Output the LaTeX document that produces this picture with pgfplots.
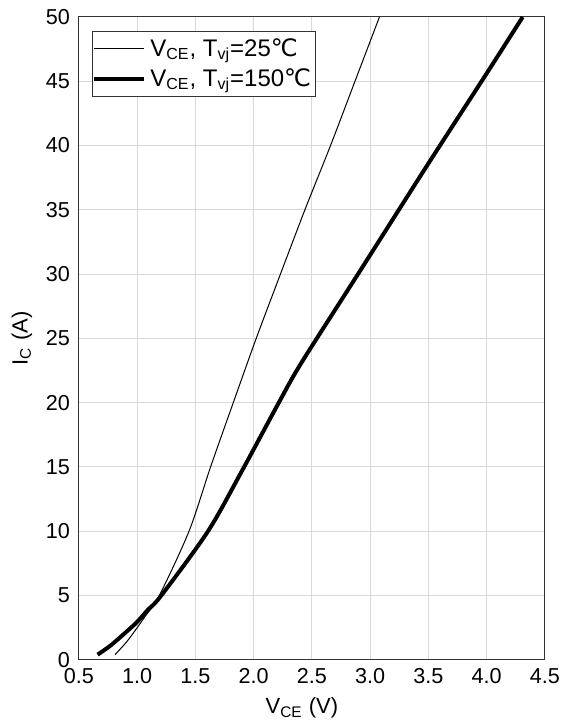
\documentclass[border=0pt]{standalone}
\usepackage{fontspec}
\setmainfont{Liberation Sans}
\newfontfamily\symfont{DejaVu Sans}
\usepackage{pgfplots}
\pgfplotsset{compat=1.18}
\newcommand{\degC}{{\symfont ℃}}
\begin{document}
\begin{tikzpicture}
\begin{axis}[
  scale only axis,
  width=233pt, height=321.5pt,
  xmin=0.5, xmax=4.5, ymin=0, ymax=50,
  xtick={0.5,1.0,...,4.5}, ytick={0,5,...,50},
  /pgf/number format/assume math mode=true,
  xticklabel style={/pgf/number format/fixed,/pgf/number format/fixed zerofill,/pgf/number format/precision=1, yshift=-1pt},
  yticklabel style={/pgf/number format/fixed, xshift=-1pt},
  tick label style={font=\fontsize{10.8}{12}\selectfont},
  label style={font=\fontsize{11}{13}\selectfont},
  major tick length=0pt,
  grid=major,
  grid style={draw=black!15, line width=0.5pt},
  axis line style={draw=black!80, line width=0.5pt},
  xlabel={V\textsubscript{CE} (V)},
  ylabel={I\textsubscript{C} (A)},
  xlabel style={xshift=-5pt},
  legend cell align=left,
  legend style={at={(0,1)}, anchor=north west, xshift=6.5pt, yshift=-7pt,
    draw=black!80, line width=0.5pt, font=\fontsize{12}{15}\selectfont,
    inner xsep=0pt, inner ysep=1.5pt, row sep=0.5pt},
  legend image code/.code={\draw[#1] (0pt,0pt) -- (25pt,0pt);},
]
\addplot[black, line width=0.5pt, smooth] coordinates {
(0.81,0.4) (0.91,1.4) (1.0,2.5) (1.07,3.4) (1.19,5.0) (1.445,10) (1.63,15)
(1.825,20) (2.022,25) (2.23,30) (2.44,35) (2.66,40) (2.87,45) (3.08,50)};
\addlegendentry{V\textsubscript{CE}, T\textsubscript{vj}=25\degC\hspace{3pt}}
\addplot[black, line width=2pt, smooth] coordinates {
(0.66,0.4) (0.77,1.1) (0.91,2.2) (1.0,2.95) (1.093,3.9) (1.207,5) (1.608,10)
(1.90,14.7) (2.21,19.9) (2.41,23.1) (2.91,30.2) (3.5,38.6) (4.0,45.6) (4.31,50)};
\addlegendentry{V\textsubscript{CE}, T\textsubscript{vj}=150\degC\hspace{3pt}}
\end{axis}
\path (current axis.south west) ++(-39.5pt,-32.5pt);
\path (current axis.north east) ++(8pt,8.5pt);
\end{tikzpicture}
\end{document}
